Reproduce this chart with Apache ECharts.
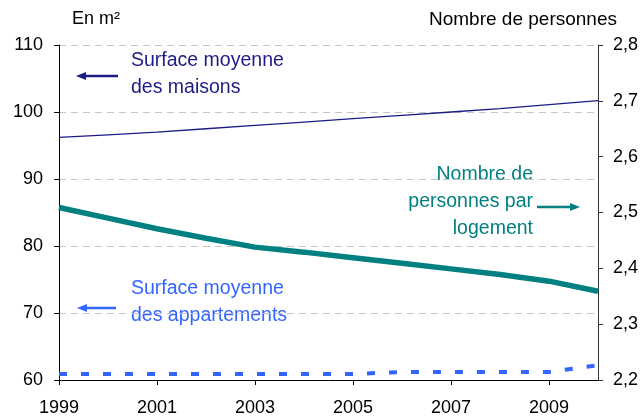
<!DOCTYPE html>
<html>
<head>
<meta charset="utf-8">
<script src="https://cdn.jsdelivr.net/npm/echarts@6/dist/echarts.min.js"></script>
<style>
  html, body { margin: 0; padding: 0; background: #fff; }
  #chart { width: 644px; height: 417px; }
</style>
</head>
<body>
<div id="chart"></div>
<script>
// 数据
const years = ['1999', '2000', '2001', '2002', '2003', '2004', '2005', '2006', '2007', '2008', '2009', '2010'];
const surfaceMaisons = [96.2, 96.6, 97.0, 97.5, 98.0, 98.5, 99.0, 99.5, 100.0, 100.5, 101.1, 101.7];
const surfaceAppartements = [60.9, 60.9, 60.9, 60.9, 60.9, 60.9, 60.9, 61.2, 61.2, 61.2, 61.2, 62.2];
const personnesParLogement = [2.509, 2.490, 2.471, 2.454, 2.438, 2.429, 2.419, 2.409, 2.399, 2.389, 2.377, 2.359];

const FONT = '"Liberation Sans", Arial, sans-serif';
const NAVY = '#1c1c86';
const TEAL = '#008080';
const BLUE = '#3366ff';

// 箭头
const arrow = (x1, x2, y, color, toLeft) => {
        let tip = toLeft ? x1 : x2;
        let base = toLeft ? x1 + 10 : x2 - 10;
        return {
                type: 'group',
                silent: true,
                children: [{
                        type: 'line',
                        shape: { x1: toLeft ? base : x1, y1: y, x2: toLeft ? x2 : base, y2: y },
                        style: { stroke: color, lineWidth: 2.5 }
                }, {
                        type: 'polygon',
                        shape: { points: [[tip, y], [base, y - 4], [base, y + 4]] },
                        style: { fill: color }
                }]
        };
};

const label = (text, x, y, color, align) => ({
        type: 'text',
        silent: true,
        x: x,
        y: y,
        style: {
                text: text,
                fill: color,
                fontFamily: FONT,
                fontSize: 19.5,
                lineHeight: 27,
                align: align || 'left',
                verticalAlign: 'top'
        }
});

let option = {
        animation: false,
        grid: {
                top: 45,
                left: 59,
                right: 46,
                bottom: 35
        },
        xAxis: [{
                type: 'category',
                data: years,
                boundaryGap: false,
                axisLine: { lineStyle: { color: '#000', width: 1 } },
                axisTick: { interval: 1, length: 5, lineStyle: { color: '#000' } },
                axisLabel: {
                        interval: 1,
                        margin: 19,
                        color: '#000',
                        fontFamily: FONT,
                        fontSize: 18
                },
                splitLine: { show: false }
        }],
        yAxis: [{
                type: 'value',
                min: 60,
                max: 110,
                interval: 10,
                axisLine: { show: true, lineStyle: { color: '#000' } },
                axisTick: { show: true, length: 5, lineStyle: { color: '#000' } },
                axisLabel: {
                        margin: 16,
                        color: '#000',
                        fontFamily: FONT,
                        fontSize: 18
                },
                splitLine: {
                        show: true,
                        lineStyle: { color: '#c4c4c4', type: [7, 5] }
                }
        }, {
                type: 'value',
                min: 2.2,
                max: 2.8,
                interval: 0.1,
                position: 'right',
                axisLine: { show: true, lineStyle: { color: '#333' } },
                axisTick: { show: true, length: 5, lineStyle: { color: '#333' } },
                axisLabel: {
                        margin: 15,
                        color: '#000',
                        fontFamily: FONT,
                        fontSize: 18,
                        formatter: function (v) {
                                return v.toFixed(1).replace('.', ',');
                        }
                },
                splitLine: { show: false }
        }],
        series: [{
                name: 'Surface moyenne des maisons',
                type: 'line',
                yAxisIndex: 0,
                data: surfaceMaisons,
                symbol: 'none',
                lineStyle: { color: NAVY, width: 1.3 }
        }, {
                name: 'Surface moyenne des appartements',
                type: 'line',
                yAxisIndex: 0,
                data: surfaceAppartements,
                symbol: 'none',
                lineStyle: { color: BLUE, width: 4, type: [8, 14], cap: 'butt' }
        }, {
                name: 'Nombre de personnes par logement',
                type: 'line',
                yAxisIndex: 1,
                data: personnesParLogement,
                symbol: 'none',
                lineStyle: { color: TEAL, width: 5.5 }
        }],
        graphic: [
                // 轴名称
                {
                        type: 'text', x: 72, y: 10,
                        style: { text: 'En m²', fill: '#000', fontFamily: FONT, fontSize: 18 }
                },
                {
                        type: 'text', x: 617, y: 10,
                        style: { text: 'Nombre de personnes', fill: '#000', fontFamily: FONT, fontSize: 19, align: 'right' }
                },
                // 标注
                label('Surface moyenne\ndes maisons', 131, 47, NAVY),
                arrow(76, 118, 76, NAVY, true),
                label('Surface moyenne\ndes appartements', 131, 275, BLUE),
                arrow(77, 116, 308, BLUE, true),
                label('Nombre de\npersonnes par\nlogement', 533, 161, TEAL, 'right'),
                arrow(537, 580, 207, TEAL, false)
        ]
};

let chart = echarts.init(document.getElementById('chart'), null, { renderer: 'canvas' });
chart.setOption(option);
</script>
</body>
</html>
